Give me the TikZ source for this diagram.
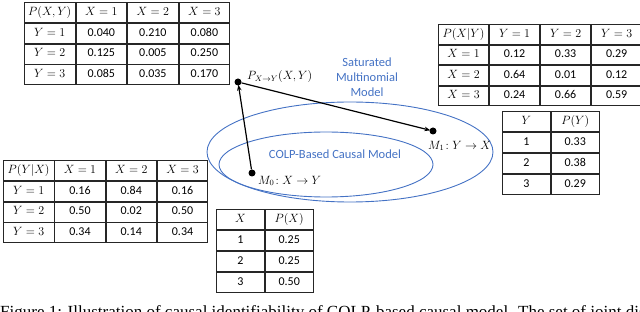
\documentclass[tikz,border=0pt]{standalone}
\usepackage[no-math]{fontspec}
\setmainfont{Carlito}
\newfontfamily\capfont{Liberation Serif}
\usetikzlibrary{matrix,arrows.meta}
\definecolor{modelblue}{HTML}{4472C4}
\tikzset{
  tbl/.style n args={2}{matrix of nodes, inner sep=0pt, outer sep=0pt,
    column sep=0pt, row sep=0pt, anchor=north west,
    nodes={draw=black!85, line width=0.8pt, inner sep=0pt, outer sep=0pt,
      anchor=center, font=\fontsize{12}{14}\selectfont,
      text height=8.5pt, text depth=2.5pt,
      minimum width=#1, minimum height=#2}},
  dot/.style={circle, fill=black, inner sep=0pt, minimum size=7pt},
  conn/.style={line width=1.2pt, -{Stealth[length=6pt,width=4.5pt]}, shorten >=-1pt},
  ell/.style={draw=modelblue, line width=0.9pt},
  bluetext/.style={text=modelblue, font=\fontsize{12.5}{15}\selectfont, align=center, inner sep=0pt},
  mlabel/.style={font=\fontsize{12}{14}\selectfont, inner sep=0pt, anchor=west},
}
\begin{document}
\begin{tikzpicture}[x=1pt,y=-1pt]
\clip (0,0) rectangle (640,312);
\useasboundingbox (0,0) rectangle (640,312);

% ellipses
\draw[ell] (350,152) ellipse [x radius=143, y radius=50];
\draw[ell] (326,164.5) ellipse [x radius=107, y radius=32.5];

% tables
\matrix[tbl={50.75pt}{20pt}] (jt) at (24,2) {
$P(X,Y)$ & $X=1$ & $X=2$ & $X=3$ \\
$Y=1$ & 0.040 & 0.210 & 0.080 \\
$Y=2$ & 0.125 & 0.005 & 0.250 \\
$Y=3$ & 0.085 & 0.035 & 0.170 \\
};
\matrix[tbl={50.25pt}{19.75pt}] (xy) at (438,24) {
$P(X|Y)$ & $Y=1$ & $Y=2$ & $Y=3$ \\
$X=1$ & 0.12 & 0.33 & 0.29 \\
$X=2$ & 0.64 & 0.01 & 0.12 \\
$X=3$ & 0.24 & 0.66 & 0.59 \\
};
\matrix[tbl={50.5pt}{20pt}] (yx) at (3,160) {
$P(Y|X)$ & $X=1$ & $X=2$ & $X=3$ \\
$Y=1$ & 0.16 & 0.84 & 0.16 \\
$Y=2$ & 0.50 & 0.02 & 0.50 \\
$Y=3$ & 0.34 & 0.14 & 0.34 \\
};
\matrix[tbl={48pt}{20.25pt}] (py) at (502,111) {
$Y$ & $P(Y)$ \\
1 & 0.33 \\
2 & 0.38 \\
3 & 0.29 \\
};
\matrix[tbl={48pt}{20.25pt}] (px) at (216,209) {
$X$ & $P(X)$ \\
1 & 0.25 \\
2 & 0.25 \\
3 & 0.50 \\
};

% model labels
\node[bluetext] (sat) at (367,77) {Saturated\\Multinomial\\Model};
\node[bluetext] (colp) at (335,154) {COLP-Based Causal Model};

% points
\node[dot] (P) at (238,82) {};
\node[dot] (M1) at (433,131) {};
\node[dot] (M0) at (252,173) {};
\node[mlabel] (Plab) at (247,77) {$P_{X\to Y}(X,Y)$};
\node[mlabel] (M1lab) at (428,146) {$M_1\!: Y\to X$};
\node[mlabel] (M0lab) at (258,181) {$M_0\!: X\to Y$};

\draw[conn] (M0) -- (P);
\draw[conn] (P) -- (M1);

% caption (cut off at the bottom edge, as in the reference)
\node[anchor=base west, inner sep=0pt, font=\capfont\fontsize{17}{19}\selectfont] (cap) at (0,317.3)
 {Figure 1: Illustration of causal identifiability of COLP-based causal model. The set of joint distributions};
\end{tikzpicture}
\end{document}
